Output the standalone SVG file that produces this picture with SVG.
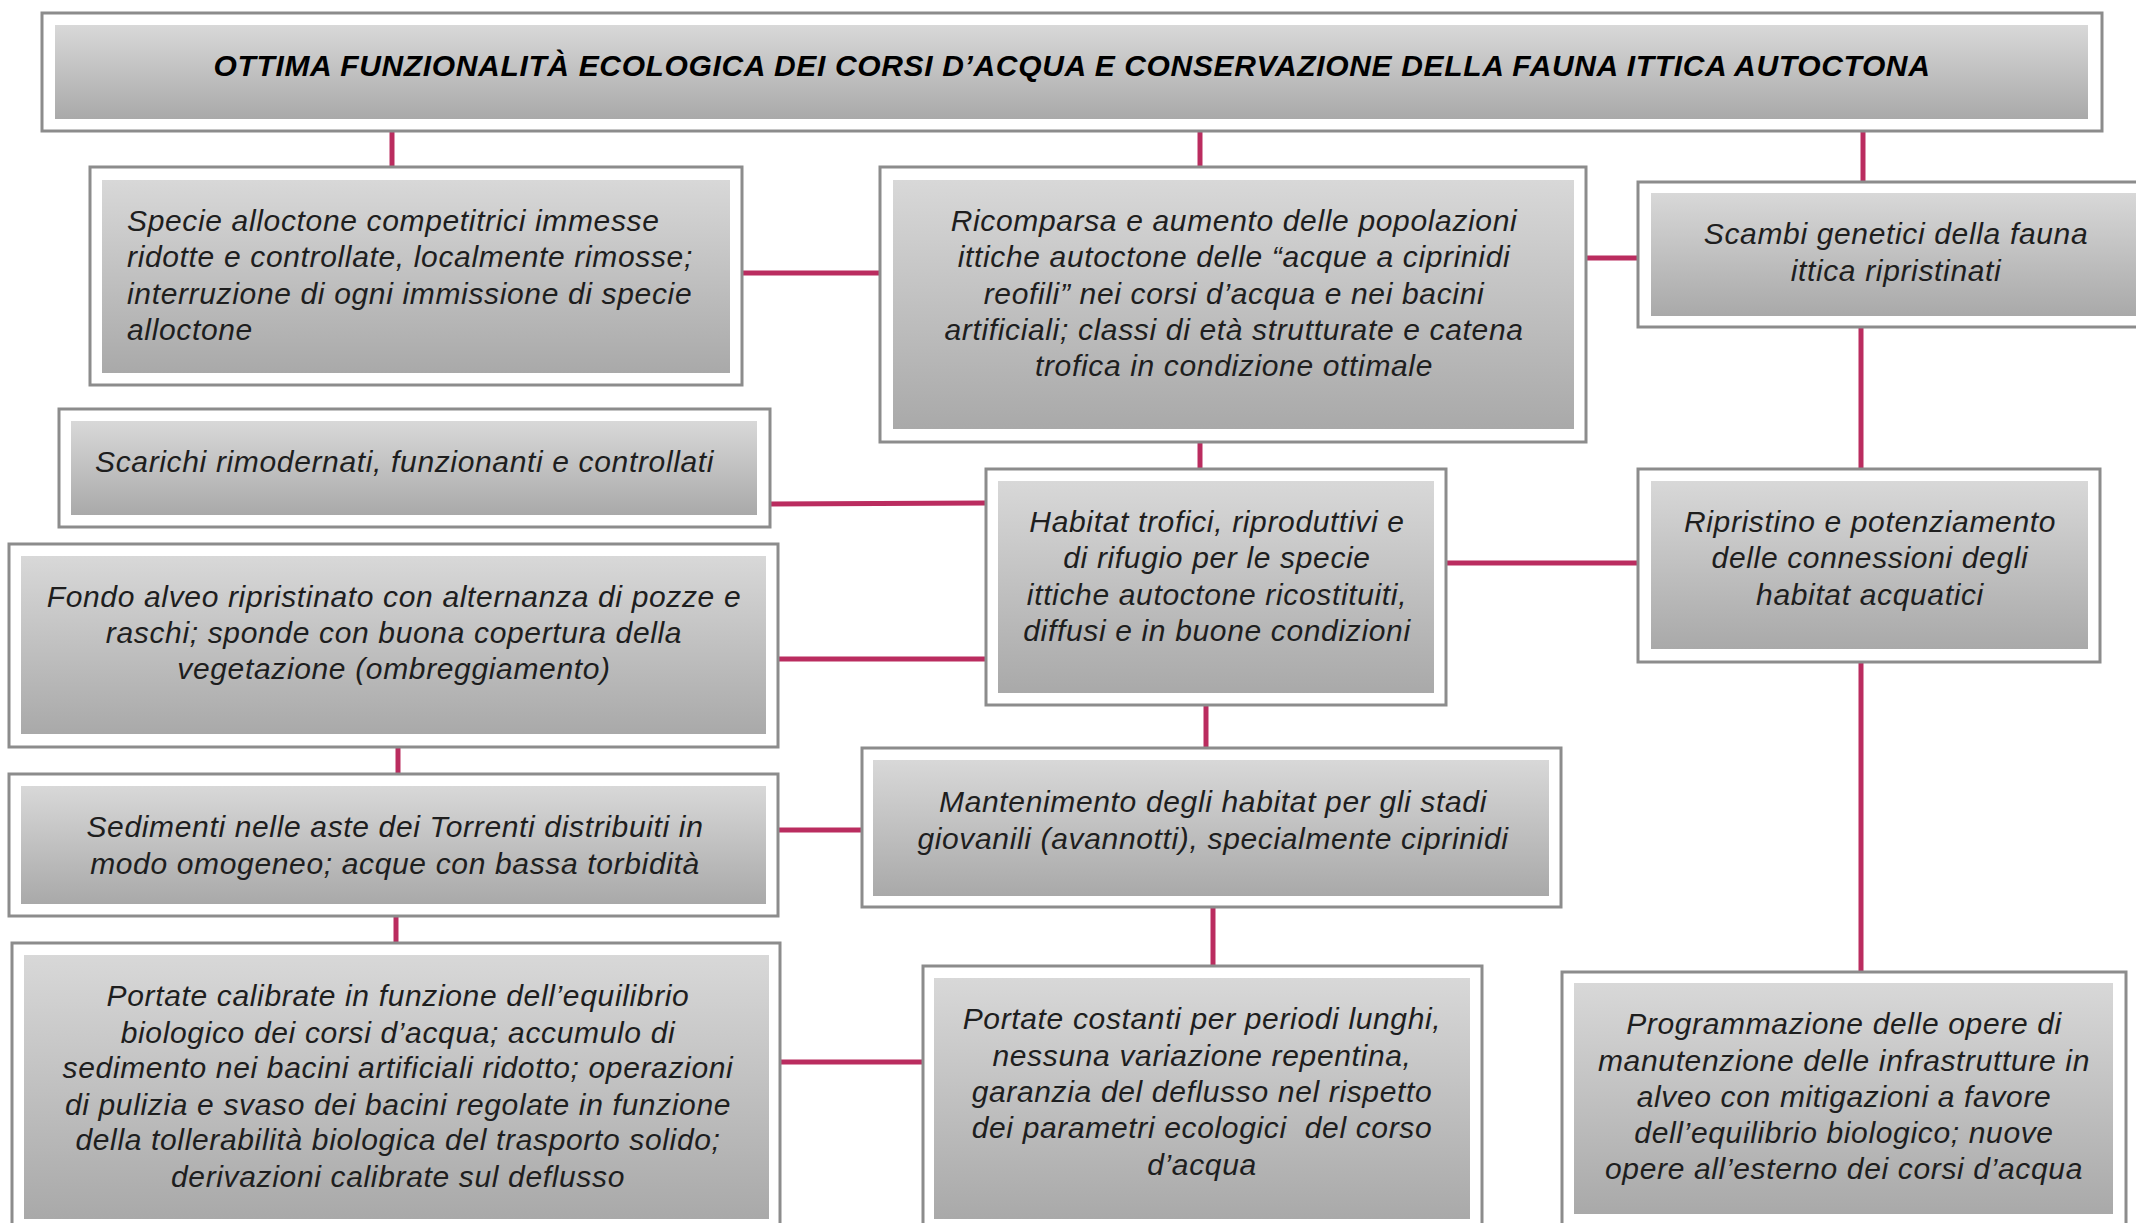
<svg xmlns="http://www.w3.org/2000/svg" width="2136" height="1223" viewBox="0 0 2136 1223">
<defs>
<linearGradient id="g" x1="0" y1="0" x2="0" y2="1">
<stop offset="0" stop-color="#d8d8d8"/>
<stop offset="1" stop-color="#a9a9a9"/>
</linearGradient>
<style>
.o{fill:#ffffff;stroke:#8c8c8c;stroke-width:3}
.i{fill:url(#g)}
.c{stroke:#ba2c5f;stroke-width:5;fill:none}
text{font-family:"Liberation Sans",Arial,sans-serif;font-style:italic;font-size:30px;fill:#1e1e1e;letter-spacing:0.65px}
.m{text-anchor:middle}
.t{font-weight:bold;font-size:30px;fill:#000;letter-spacing:0.65px}
</style>
</defs>
<rect width="2136" height="1223" fill="#ffffff"/>
<g id="connectors">
<line class="c" x1="392" y1="131" x2="392" y2="167"/>
<line class="c" x1="1200" y1="131" x2="1200" y2="167"/>
<line class="c" x1="1863" y1="131" x2="1863" y2="182"/>
<line class="c" x1="742" y1="273" x2="880" y2="273"/>
<line class="c" x1="1586" y1="258" x2="1638" y2="258"/>
<line class="c" x1="1861" y1="327" x2="1861" y2="469"/>
<line class="c" x1="1200" y1="442" x2="1200" y2="469"/>
<line class="c" x1="770" y1="504" x2="986" y2="503"/>
<line class="c" x1="778" y1="659" x2="986" y2="659"/>
<line class="c" x1="1446" y1="563" x2="1638" y2="563"/>
<line class="c" x1="1861" y1="662" x2="1861" y2="972"/>
<line class="c" x1="1206" y1="705" x2="1206" y2="748"/>
<line class="c" x1="398" y1="747" x2="398" y2="774"/>
<line class="c" x1="778" y1="830" x2="862" y2="830"/>
<line class="c" x1="396" y1="916" x2="396" y2="943"/>
<line class="c" x1="780" y1="1062" x2="923" y2="1062"/>
<line class="c" x1="1213" y1="907" x2="1213" y2="966"/>
</g>
<g id="title">
<rect class="o" x="42" y="13" width="2060" height="118"/>
<rect class="i" x="55" y="25" width="2033" height="94"/>
<text class="t m" x="1072" y="76">OTTIMA FUNZIONALITÀ ECOLOGICA DEI CORSI D’ACQUA E CONSERVAZIONE DELLA FAUNA ITTICA AUTOCTONA</text>
</g>
<g id="specie">
<rect class="o" x="90" y="167" width="652" height="218"/>
<rect class="i" x="102" y="180" width="628" height="193"/>
<text x="127" y="231">Specie alloctone competitrici immesse</text>
<text x="127" y="267">ridotte e controllate, localmente rimosse;</text>
<text x="127" y="304">interruzione di ogni immissione di specie</text>
<text x="127" y="340">alloctone</text>
</g>
<g id="ricomparsa">
<rect class="o" x="880" y="167" width="706" height="275"/>
<rect class="i" x="893" y="180" width="681" height="249"/>
<text class="m" x="1234" y="231">Ricomparsa e aumento delle popolazioni</text>
<text class="m" x="1234" y="267">ittiche autoctone delle “acque a ciprinidi</text>
<text class="m" x="1234" y="304">reofili” nei corsi d’acqua e nei bacini</text>
<text class="m" x="1234" y="340">artificiali; classi di età strutturate e catena</text>
<text class="m" x="1234" y="376">trofica in condizione ottimale</text>
</g>
<g id="scambi">
<rect class="o" x="1638" y="182" width="520" height="145"/>
<rect class="i" x="1651" y="193" width="500" height="123"/>
<text class="m" x="1896" y="244">Scambi genetici della fauna</text>
<text class="m" x="1896" y="281">ittica ripristinati</text>
</g>
<g id="scarichi">
<rect class="o" x="59" y="409" width="711" height="118"/>
<rect class="i" x="71" y="421" width="686" height="94"/>
<text x="95" y="472">Scarichi rimodernati, funzionanti e controllati</text>
</g>
<g id="habitat">
<rect class="o" x="986" y="469" width="460" height="236"/>
<rect class="i" x="998" y="481" width="436" height="212"/>
<text class="m" x="1217" y="532">Habitat trofici, riproduttivi e</text>
<text class="m" x="1217" y="568">di rifugio per le specie</text>
<text class="m" x="1217" y="605">ittiche autoctone ricostituiti,</text>
<text class="m" x="1217" y="641">diffusi e in buone condizioni</text>
</g>
<g id="ripristino">
<rect class="o" x="1638" y="469" width="462" height="193"/>
<rect class="i" x="1651" y="481" width="437" height="168"/>
<text class="m" x="1870" y="532">Ripristino e potenziamento</text>
<text class="m" x="1870" y="568">delle connessioni degli</text>
<text class="m" x="1870" y="605">habitat acquatici</text>
</g>
<g id="fondo">
<rect class="o" x="9" y="544" width="769" height="203"/>
<rect class="i" x="21" y="556" width="745" height="178"/>
<text class="m" x="394" y="607">Fondo alveo ripristinato con alternanza di pozze e</text>
<text class="m" x="394" y="643">raschi; sponde con buona copertura della</text>
<text class="m" x="394" y="679">vegetazione (ombreggiamento)</text>
</g>
<g id="sedimenti">
<rect class="o" x="9" y="774" width="769" height="142"/>
<rect class="i" x="21" y="786" width="745" height="118"/>
<text class="m" x="395" y="837">Sedimenti nelle aste dei Torrenti distribuiti in</text>
<text class="m" x="395" y="874">modo omogeneo; acque con bassa torbidità</text>
</g>
<g id="mantenimento">
<rect class="o" x="862" y="748" width="699" height="159"/>
<rect class="i" x="873" y="760" width="676" height="136"/>
<text class="m" x="1213" y="812">Mantenimento degli habitat per gli stadi</text>
<text class="m" x="1213" y="849">giovanili (avannotti), specialmente ciprinidi</text>
</g>
<g id="portate-calibrate">
<rect class="o" x="12" y="943" width="768" height="300"/>
<rect class="i" x="24" y="955" width="745" height="264"/>
<text class="m" x="398" y="1006">Portate calibrate in funzione dell’equilibrio</text>
<text class="m" x="398" y="1043">biologico dei corsi d’acqua; accumulo di</text>
<text class="m" x="398" y="1078">sedimento nei bacini artificiali ridotto; operazioni</text>
<text class="m" x="398" y="1115">di pulizia e svaso dei bacini regolate in funzione</text>
<text class="m" x="398" y="1150">della tollerabilità biologica del trasporto solido;</text>
<text class="m" x="398" y="1187">derivazioni calibrate sul deflusso</text>
</g>
<g id="portate-costanti">
<rect class="o" x="923" y="966" width="559" height="280"/>
<rect class="i" x="934" y="978" width="536" height="241"/>
<text class="m" x="1202" y="1029">Portate costanti per periodi lunghi,</text>
<text class="m" x="1202" y="1066">nessuna variazione repentina,</text>
<text class="m" x="1202" y="1102">garanzia del deflusso nel rispetto</text>
<text class="m" x="1202" y="1138" xml:space="preserve">dei parametri ecologici  del corso</text>
<text class="m" x="1202" y="1175">d’acqua</text>
</g>
<g id="programmazione">
<rect class="o" x="1562" y="972" width="564" height="260"/>
<rect class="i" x="1574" y="983" width="539" height="231"/>
<text class="m" x="1844" y="1034">Programmazione delle opere di</text>
<text class="m" x="1844" y="1071">manutenzione delle infrastrutture in</text>
<text class="m" x="1844" y="1107">alveo con mitigazioni a favore</text>
<text class="m" x="1844" y="1143">dell’equilibrio biologico; nuove</text>
<text class="m" x="1844" y="1179">opere all’esterno dei corsi d’acqua</text>
</g>
</svg>
